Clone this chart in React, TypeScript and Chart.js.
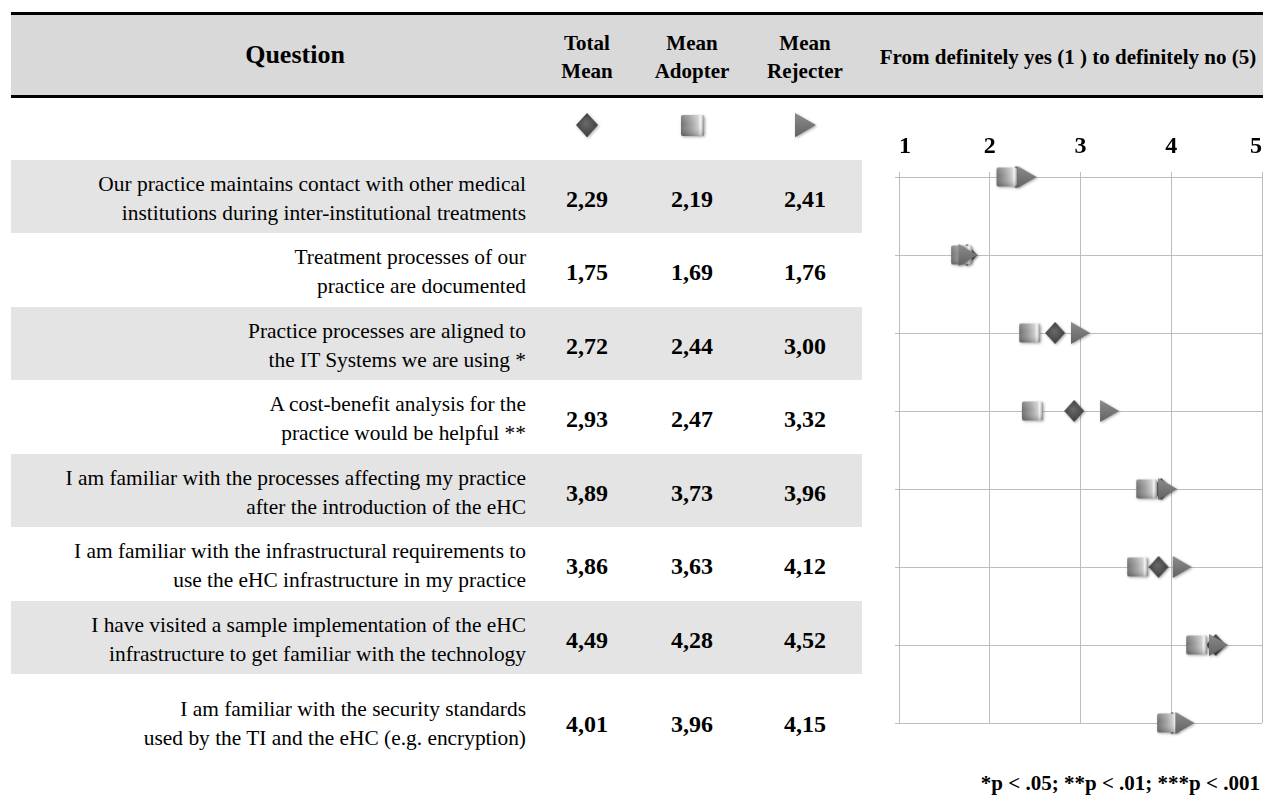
import React, { useEffect, useMemo, useRef } from "react";
import { Chart, registerables } from "chart.js";

Chart.register(...registerables);

// ---- Data ----------------------------------------------------------------
const questions: string[][] = [
  ["Our practice maintains contact with other medical", "institutions during inter-institutional treatments"],
  ["Treatment processes of our", "practice are documented"],
  ["Practice processes are aligned to", "the IT Systems we are using *"],
  ["A cost-benefit analysis for the", "practice would be helpful **"],
  ["I am familiar with the processes affecting my practice", "after the introduction of the eHC"],
  ["I am familiar with the infrastructural requirements to", "use the eHC infrastructure in my practice"],
  ["I have visited a sample implementation of the eHC", "infrastructure to get familiar with the technology"],
  ["I am familiar with the security standards", "used by the TI and the eHC (e.g. encryption)"],
];
const totalMean = [2.29, 1.75, 2.72, 2.93, 3.89, 3.86, 4.49, 4.01];
const meanAdopter = [2.19, 1.69, 2.44, 2.47, 3.73, 3.63, 4.28, 3.96];
const meanRejecter = [2.41, 1.76, 3.0, 3.32, 3.96, 4.12, 4.52, 4.15];

const columnHeaders = [
  ["Total", "Mean"],
  ["Mean", "Adopter"],
  ["Mean", "Rejecter"],
];
const scaleTitle = "From definitely yes (1 ) to definitely no (5)";
const scaleMin = 1;
const scaleMax = 5;
const footnote = "*p < .05; **p < .01; ***p < .001";

// ---- Styling -------------------------------------------------------------
const SERIF = "'Liberation Serif', 'Times New Roman', Times, serif";
const GRID = "#bdbdbd";
const columnCenters = [587, 692, 805];
const rowTop0 = 160;
const rowStep = 73.43;

type MarkerKind = "diamond" | "square" | "triangle";

// Small shaded glyphs used both as point styles and in the key row.
function makeMarker(kind: MarkerKind, scale = 1): HTMLCanvasElement {
  const pad = 4;
  const dims: Record<MarkerKind, [number, number]> = {
    square: [21, 19],
    diamond: [20, 22],
    triangle: [19, 22],
  };
  const [bw, bh] = dims[kind];
  const w = bw * scale;
  const h = bh * scale;
  const c = document.createElement("canvas");
  c.width = Math.round(w) + pad * 2;
  c.height = Math.round(h) + pad * 2;
  const ctx = c.getContext("2d")!;
  ctx.translate(pad, pad);
  ctx.shadowColor = "rgba(0,0,0,0.35)";
  ctx.shadowBlur = 3;
  ctx.shadowOffsetX = 1;
  ctx.shadowOffsetY = 1;

  if (kind === "square") {
    const g = ctx.createLinearGradient(0, 0, w, 0);
    g.addColorStop(0, "#707070");
    g.addColorStop(0.45, "#a4a4a4");
    g.addColorStop(0.74, "#cdcdcd");
    g.addColorStop(0.84, "#f4f4f4");
    g.addColorStop(0.91, "#cfcfcf");
    g.addColorStop(1, "#8a8a8a");
    ctx.beginPath();
    ctx.roundRect(0, 0, w, h, 2);
    ctx.fillStyle = g;
    ctx.fill();
    ctx.shadowColor = "transparent";
    const v = ctx.createLinearGradient(0, 0, 0, h);
    v.addColorStop(0, "rgba(255,255,255,0.18)");
    v.addColorStop(0.45, "rgba(255,255,255,0)");
    v.addColorStop(1, "rgba(0,0,0,0.22)");
    ctx.fillStyle = v;
    ctx.fill();
  } else if (kind === "diamond") {
    const g = ctx.createRadialGradient(w * 0.45, h * 0.42, 0, w / 2, h / 2, w * 0.6);
    g.addColorStop(0, "#6a6a6a");
    g.addColorStop(1, "#3a3a3a");
    ctx.beginPath();
    ctx.moveTo(w / 2, 0);
    ctx.lineTo(w, h / 2);
    ctx.lineTo(w / 2, h);
    ctx.lineTo(0, h / 2);
    ctx.closePath();
    ctx.fillStyle = g;
    ctx.fill();
  } else {
    const g = ctx.createLinearGradient(0, 0, 0, h);
    g.addColorStop(0, "#8c8c8c");
    g.addColorStop(1, "#626262");
    ctx.beginPath();
    ctx.moveTo(0, 0);
    ctx.lineTo(w, h / 2);
    ctx.lineTo(0, h);
    ctx.closePath();
    ctx.fillStyle = g;
    ctx.fill();
  }
  return c;
}

function KeyIcon({ kind, cx, cy }: { kind: MarkerKind; cx: number; cy: number }) {
  const ref = useRef<HTMLCanvasElement>(null);
  const src = useMemo(() => makeMarker(kind, 1.1), [kind]);
  useEffect(() => {
    const c = ref.current;
    if (!c) return;
    const ctx = c.getContext("2d")!;
    ctx.clearRect(0, 0, c.width, c.height);
    ctx.drawImage(src, 0, 0);
  }, [src]);
  return (
    <canvas
      ref={ref}
      width={src.width}
      height={src.height}
      style={{ position: "absolute", left: cx - src.width / 2, top: cy - src.height / 2 }}
    />
  );
}

const fmt = (v: number) => v.toFixed(2).replace(".", ",");

function DotPlot() {
  const ref = useRef<HTMLCanvasElement>(null);
  useEffect(() => {
    const canvas = ref.current;
    if (!canvas) return;
    const tri = makeMarker("triangle");
    const sq = makeMarker("square");
    const dia = makeMarker("diamond");
    const toPoints = (arr: number[]) => arr.map((v, i) => ({ x: v, y: i + 1 }));
    const chart = new Chart(canvas, {
      type: "scatter",
      data: {
        datasets: [
          { label: "Mean Rejecter", data: toPoints(meanRejecter), pointStyle: tri as any, pointRadius: 10, order: 0, clip: false as any },
          { label: "Mean Adopter", data: toPoints(meanAdopter), pointStyle: sq as any, pointRadius: 10, order: 1, clip: false as any },
          { label: "Total Mean", data: toPoints(totalMean), pointStyle: dia as any, pointRadius: 10, order: 2, clip: false as any },
        ],
      },
      options: {
        animation: false,
        responsive: false,
        events: [],
        layout: { autoPadding: false, padding: { left: 0, right: 1, top: 0, bottom: 27 } },
        plugins: { legend: { display: false }, tooltip: { enabled: false } },
        scales: {
          x: {
            type: "linear",
            position: "top",
            min: scaleMin,
            max: scaleMax,
            ticks: {
              stepSize: 1,
              align: "inner",
              padding: 0,
              color: "#000",
              font: { family: SERIF, size: 24, weight: "bold", lineHeight: 2.1 },
            },
            grid: { color: GRID, tickLength: 5, lineWidth: 1 },
            border: { color: GRID },
            afterFit: (s: any) => {
              s.height = 77;
              // labels sit inside the plot edges, so no side padding is needed
              s.paddingLeft = 0;
              s.paddingRight = 0;
            },
          },
          y: {
            type: "linear",
            reverse: true,
            min: 1,
            max: questions.length,
            ticks: { stepSize: 1, display: false },
            grid: { color: GRID, tickLength: 4, lineWidth: 1 },
            border: { color: GRID },
            afterFit: (s: any) => {
              s.width = 19;
              s.paddingTop = 0;
              s.paddingBottom = 0;
            },
          },
        },
      } as any,
    });
    return () => chart.destroy();
  }, []);
  return (
    <canvas
      ref={ref}
      width={383}
      height={650}
      style={{ position: "absolute", left: 880, top: 100, width: 383, height: 650 }}
    />
  );
}

export default function App() {
  return (
    <div
      style={{
        position: "absolute",
        left: 0,
        top: 0,
        width: 1263,
        height: 796,
        overflow: "hidden",
        background: "#fff",
        fontFamily: SERIF,
        color: "#000",
      }}
    >
      {/* header band */}
      <div style={{ position: "absolute", left: 11, top: 15, width: 1252, height: 80, background: "#d9d9d9" }} />
      <div style={{ position: "absolute", left: 11, top: 12, width: 1252, height: 3, background: "#000" }} />
      <div style={{ position: "absolute", left: 11, top: 95, width: 1252, height: 3, background: "#000" }} />

      <div
        style={{
          position: "absolute",
          left: 145,
          top: 40,
          width: 300,
          textAlign: "center",
          fontWeight: "bold",
          fontSize: 26,
          lineHeight: "30px",
        }}
      >
        Question
      </div>
      {columnHeaders.map((lines, i) => (
        <div
          key={i}
          style={{
            position: "absolute",
            left: columnCenters[i] - 60,
            top: 29,
            width: 120,
            textAlign: "center",
            fontWeight: "bold",
            fontSize: 21,
            lineHeight: "28px",
          }}
        >
          {lines[0]}
          <br />
          {lines[1]}
        </div>
      ))}
      <div
        style={{
          position: "absolute",
          left: 858,
          top: 43,
          width: 420,
          textAlign: "center",
          fontWeight: "bold",
          fontSize: 21,
          lineHeight: "28px",
          whiteSpace: "nowrap",
        }}
      >
        {scaleTitle}
      </div>

      {/* key row */}
      <KeyIcon kind="diamond" cx={columnCenters[0]} cy={125} />
      <KeyIcon kind="square" cx={columnCenters[1]} cy={125} />
      <KeyIcon kind="triangle" cx={columnCenters[2]} cy={125} />

      {/* rows */}
      {questions.map((q, i) => {
        const top = Math.round(rowTop0 + i * rowStep);
        const next = i === questions.length - 1 ? top + 100 : Math.round(rowTop0 + (i + 1) * rowStep);
        const h = next - top;
        const mid = top + h / 2 + (i === questions.length - 1 ? 0 : 2);
        const vals = [totalMean[i], meanAdopter[i], meanRejecter[i]];
        return (
          <div key={i}>
            {i % 2 === 0 && (
              <div style={{ position: "absolute", left: 11, top, width: 851, height: h, background: "#e4e4e4" }} />
            )}
            <div
              style={{
                position: "absolute",
                left: 10,
                width: 516,
                top: mid - 29,
                height: 58,
                textAlign: "right",
                fontSize: 21.4,
                lineHeight: "29px",
                whiteSpace: "nowrap",
              }}
            >
              {q[0]}
              <br />
              {q[1]}
            </div>
            {vals.map((v, j) => (
              <div
                key={j}
                style={{
                  position: "absolute",
                  left: columnCenters[j] - 50,
                  width: 100,
                  top: mid - 15,
                  lineHeight: "30px",
                  textAlign: "center",
                  fontWeight: "bold",
                  fontSize: 24,
                }}
              >
                {fmt(v)}
              </div>
            ))}
          </div>
        );
      })}

      <DotPlot />

      <div
        style={{
          position: "absolute",
          right: 3,
          top: 769,
          lineHeight: "28px",
          fontWeight: "bold",
          fontSize: 21,
          whiteSpace: "nowrap",
        }}
      >
        {footnote}
      </div>
    </div>
  );
}
